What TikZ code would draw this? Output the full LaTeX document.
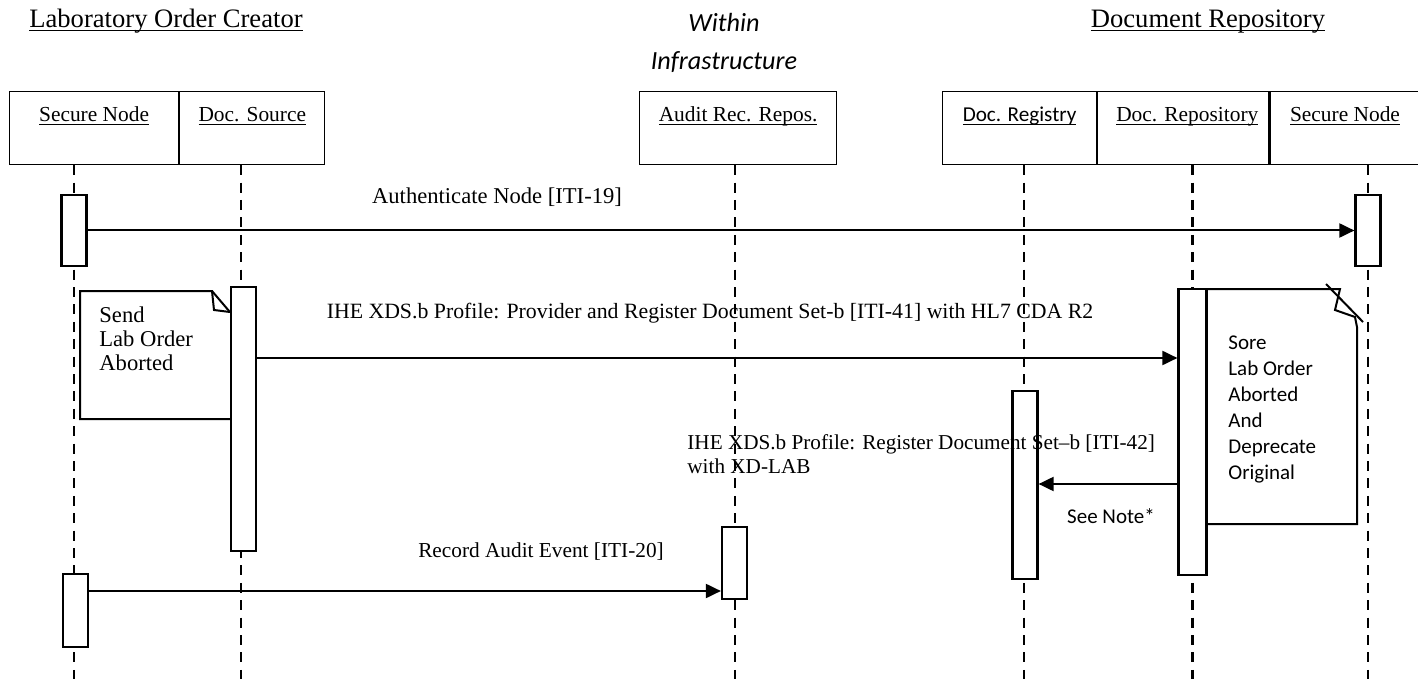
\documentclass[tikz,border=0pt]{standalone}
\usepackage{fontspec}
\setmainfont{Liberation Serif}
\newfontfamily\calib{Carlito}
\usetikzlibrary{arrows.meta,positioning}
\newcommand{\ulbl}[1]{\underline{\smash{#1}}}

\begin{document}
\begin{tikzpicture}[x=0.5pt,y=-0.5pt,>={Triangle[length=7.5pt,width=7pt]},
  head/.style={draw,line width=0.6pt,minimum height=36.5pt,inner sep=0pt,anchor=north west},
  headtxt/.style={inner sep=0pt,anchor=base,font=\fontsize{10.7}{13}\selectfont},
  act/.style={draw,fill=white,line width=1.1pt,minimum width=12.5pt,inner sep=0pt},
  life/.style={line width=1.25pt,dash pattern=on 5pt off 3.7pt},
  msgtxt/.style={inner sep=0pt,font=\fontsize{11.3}{12.2}\selectfont},
  smalltxt/.style={inner sep=0pt,font=\calib\fontsize{10.5}{13}\selectfont},
  title/.style={inner sep=0pt,anchor=base,font=\fontsize{13.3}{16}\selectfont}]
\useasboundingbox (0,0) rectangle (1418,679);

% actors
\node[title] (loc) at (166,28) {\ulbl{Laboratory Order Creator}};
\node[inner sep=0pt,align=center,font=\calib\itshape\fontsize{13.1}{19}\selectfont] (infra) at (724,43) {Within\\Infrastructure};
\node[title] (drtitle) at (1208,28) {\ulbl{Document Repository}};

\node[head,minimum width=84.5pt] (snA) at (9,91) {};
\node[head,minimum width=72.5pt,right=0pt of snA] (src) {};
\node[head,minimum width=98.5pt] (arr) at (639,91) {};
\node[head,minimum width=77pt] (reg) at (942,91) {};
\node[head,minimum width=85.5pt,right=0pt of reg] (rep) {};
\node[head,minimum width=75pt,right=0pt of rep] (snB) {};

\node[headtxt] (snAt) at ([yshift=-15.5pt]snA.north) {\ulbl{Secure Node}};
\node[headtxt] (srct) at ([yshift=-15.5pt]src.north) {\ulbl{Doc. Source}};
\node[headtxt] (arrt) at ([yshift=-15.5pt]arr.north) {\ulbl{Audit Rec. Repos.}};
\node[headtxt,font=\calib\fontsize{10.6}{13}\selectfont] (regt) at ([yshift=-15.5pt]reg.north) {\ulbl{Doc. Registry}};
\node[headtxt] (rept) at ([xshift=2pt,yshift=-15.5pt]rep.north) {\ulbl{Doc. Repository}};
\node[headtxt] (snBt) at ([yshift=-15.5pt]snB.north) {\ulbl{Secure Node}};

% lifelines
\coordinate (xA) at (74,0);
\coordinate (xSrc) at (241,0);
\coordinate (xArr) at (735,0);
\coordinate (xReg) at (1024,0);
\coordinate (xRep) at (1192.5,0);
\coordinate (xB) at (1368,0);
\draw[life] (snA.south -| xA) -- ++(0,515);
\draw[life] (src.south -| xSrc) -- ++(0,515);
\draw[life] (arr.south -| xArr) -- ++(0,515);
\draw[life] (reg.south -| xReg) -- ++(0,515);
\draw[life] (rep.south -| xRep) -- ++(0,515);
\draw[life] (snB.south -| xB) -- ++(0,515);

% activations
\node[act,minimum height=35.5pt] (snAact1) at (74,230.5) {};
\node[act,minimum height=35.5pt] (snBact) at (1368,230.5) {};
\node[act,minimum height=132pt] (srcact) at (243.5,419) {};
\node[act,minimum height=143pt,minimum width=14pt] (repact) at (1192.5,432) {};
\node[act,minimum height=94pt] (regact) at (1025,485) {};
\node[act,minimum height=36pt] (audact) at (734.5,563) {};
\node[act,minimum height=36.5pt] (snAact2) at (75.5,610.5) {};

% notes
\tikzset{note/.style={line width=1pt,line join=miter}}
\draw[note] (srcact.west |- 0,419) -- (80,419) -- (80,291) -- (212,291) -- (214,310) -- (srcact.west |- 0,312);
\draw[note] (212,291) -- (srcact.west |- 0,312);
\node[msgtxt,anchor=north west,align=left] (sendtxt) at (99,306) {Send\\Lab Order\\Aborted};

\draw[note] (repact.east |- 0,289) -- (1340,289) -- (1335,310) -- (1355,317) -- (1357,327) -- (1357,524) -- (repact.east |- 0,524);
\draw[note] (1326,284) -- (1363,322);
\node[smalltxt,anchor=north west,align=left] (soretxt) at (1228,335) {Sore\\Lab Order\\Aborted\\And\\Deprecate\\Original};

% messages
\tikzset{msg/.style={->,line width=1pt}}
\coordinate (y41) at (0,358);
\coordinate (y42) at (0,484);
\coordinate (y20) at (0,591);
\path (snAact1) edge[msg] (snBact);
\draw[msg] (srcact.east |- y41) -- (repact.west |- y41);
\draw[msg] (repact.west |- y42) -- (regact.east |- y42);
\draw[msg] (snAact2.east |- y20) -- (audact.west |- y20);

\node[msgtxt] (m19) at (497,197) {Authenticate Node [ITI-19]};
\node[msgtxt,font=\fontsize{10.9}{12}\selectfont] (m41) at (710,313) {IHE XDS.b Profile: Provider and Register Document Set-b [ITI-41] with HL7 CDA R2};
\node[msgtxt,anchor=west,align=left,font=\fontsize{10.6}{12}\selectfont] (m42) at (687,454) {IHE XDS.b Profile: Register Document Set–b [ITI-42]\\with XD-LAB};
\node[smalltxt] (seenote) at (1111,516) {See Note*};
\node[msgtxt,font=\fontsize{10.65}{12}\selectfont] (m20) at (541,552) {Record Audit Event [ITI-20]};
\end{tikzpicture}
\end{document}
